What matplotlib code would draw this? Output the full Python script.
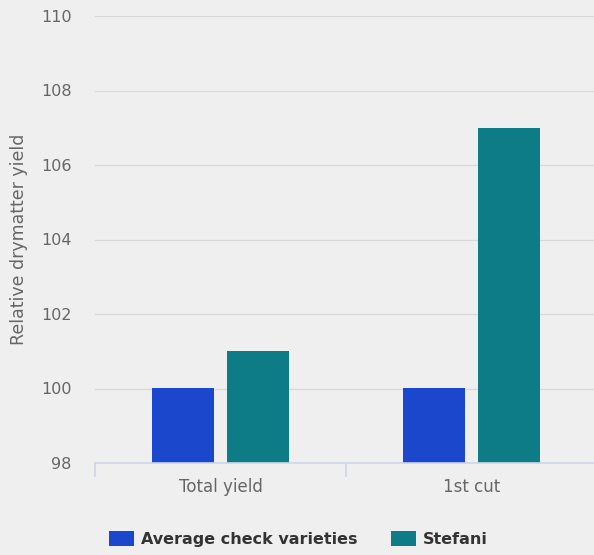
import matplotlib
matplotlib.use("Agg")
import matplotlib.pyplot as plt
import numpy as np

categories = ["Total yield", "1st cut"]
series_names = ["Average check varieties", "Stefani"]
check_values = [100, 100]
stefani_values = [101, 107]
colors = ["#1a47cc", "#0d7c87"]
yticks = [98, 100, 102, 104, 106, 108, 110]

bg = "#efefef"
fig = plt.figure(figsize=(5.94, 5.55), dpi=100, facecolor=bg)
ax = fig.add_axes([95/594, 92/555, 502/594, 447/555], facecolor=bg)

x = np.arange(len(categories))
w = 0.247
off = 0.149
b1 = ax.bar(x - off, np.array(check_values) - 98, bottom=98, width=w, color=colors[0], zorder=3)
b2 = ax.bar(x + off, np.array(stefani_values) - 98, bottom=98, width=w, color=colors[1], zorder=3)

ax.set_xlim(-0.5, 1.5)
ax.set_ylim(98, 110)
ax.set_yticks(yticks)
ax.set_yticklabels([str(v) for v in yticks])
ax.grid(axis="y", color="#d8d8d8", linewidth=0.9, zorder=0)
ax.tick_params(axis="y", length=0, pad=17, labelsize=11.5, labelcolor="#666666")

ax.set_xticks([-0.5, 0.5, 1.5])
ax.set_xticklabels(["", "", ""])
ax.tick_params(axis="x", which="major", length=10, color="#ccd6eb", width=1.2)
ax.set_xticks(x, minor=True)
ax.set_xticklabels(categories, minor=True)
ax.tick_params(axis="x", which="minor", length=0, pad=11, labelsize=12, labelcolor="#666666")

for s in ["top", "right", "left"]:
    ax.spines[s].set_visible(False)
ax.spines["bottom"].set_color("#ccd6eb")
ax.spines["bottom"].set_linewidth(1.2)
ax.spines["bottom"].set_zorder(4)

ax.set_ylabel("Relative drymatter yield", fontsize=12.5, color="#666666", labelpad=9)

leg = fig.legend([b1, b2], series_names, loc="center", bbox_to_anchor=(0.503, 0.029),
                 ncol=2, frameon=False, handlelength=1.56, handleheight=1.1,
                 handletextpad=0.44, columnspacing=2.1,
                 prop={"size": 11.5, "weight": "bold"})
for t in leg.get_texts():
    t.set_color("#333333")

fig.savefig("out.png", dpi=100, facecolor=bg)
